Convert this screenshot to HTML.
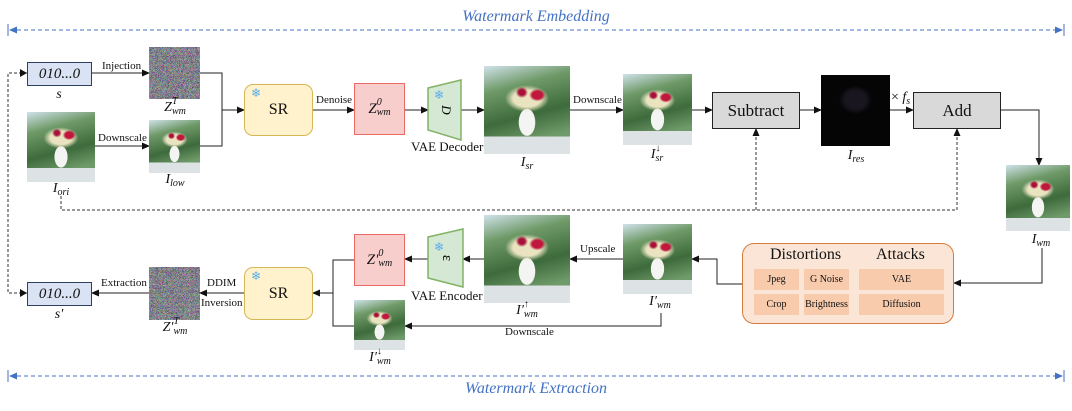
<!DOCTYPE html>
<html><head><meta charset="utf-8"><style>
body{margin:0;width:1072px;height:411px;background:#fff;position:relative;overflow:hidden;font-family:"Liberation Serif",serif;color:#111}
.a{position:absolute}
.photo{position:absolute;background:
radial-gradient(ellipse 12% 9% at 62% 33%,#c0183c 0 50%,transparent 80%),
radial-gradient(ellipse 9% 8% at 44% 30%,#a8103a 0 40%,transparent 80%),
radial-gradient(ellipse 32% 19% at 50% 37%,#e9e3c0 0 50%,transparent 80%),
radial-gradient(ellipse 15% 24% at 50% 64%,#f4f4f2 0 62%,transparent 66%),
linear-gradient(to bottom,transparent 0 80%,#dde2e4 80%),
linear-gradient(165deg,#d0e2ea 0%,#6f9a68 25%,#3e6b3c 55%,#6f9a6a 79%);}
.box{position:absolute;box-sizing:border-box;display:flex;align-items:center;justify-content:center}
.lab{position:absolute;font-style:italic;font-size:14px;transform:translateX(-50%);white-space:nowrap}
.t{position:absolute;font-size:11px;white-space:nowrap}
.cell{position:absolute;background:#f8cbad;font-size:10px;display:flex;align-items:center;justify-content:center}
.up{display:inline-block;width:0;font-size:10px;position:relative;top:-7px;overflow:visible}
.sb{font-size:10px;position:relative;top:3px}
</style></head><body>
<svg class="a" style="left:0;top:0" width="1072" height="411">
<defs>
<marker id="ar" markerWidth="8" markerHeight="8" refX="7" refY="4" orient="auto" markerUnits="userSpaceOnUse"><path d="M0,0.5 L8,4 L0,7.5z" fill="#111"/></marker>
<marker id="ab" markerWidth="8" markerHeight="8" refX="7" refY="4" orient="auto" markerUnits="userSpaceOnUse"><path d="M0,0.5 L8,4 L0,7.5z" fill="#4472c4"/></marker>
<marker id="abs" markerWidth="8" markerHeight="8" refX="1" refY="4" orient="auto" markerUnits="userSpaceOnUse"><path d="M8,0.5 L0,4 L8,7.5z" fill="#4472c4"/></marker>
<filter id="nz" x="0" y="0" width="100%" height="100%"><feTurbulence type="turbulence" baseFrequency="1.2" numOctaves="1" seed="3"/><feColorMatrix type="matrix" values="1.2 0 0 0 0.05 0 1.2 0 0 0.05 0 0 1.2 0 0.08 0 0 0 0 1"/></filter>
</defs>
<g stroke="#4472c4" stroke-width="1" stroke-dasharray="4,3" fill="none">
<line x1="10" y1="30" x2="1062" y2="30" marker-start="url(#abs)" marker-end="url(#ab)"/>
<line x1="10" y1="376" x2="1062" y2="376" marker-start="url(#abs)" marker-end="url(#ab)"/>
</g>
<line x1="8" y1="24" x2="8" y2="36" stroke="#4472c4"/><line x1="1064" y1="24" x2="1064" y2="36" stroke="#4472c4"/>
<line x1="8" y1="370" x2="8" y2="382" stroke="#4472c4"/><line x1="1064" y1="370" x2="1064" y2="382" stroke="#4472c4"/>
<rect x="149" y="47" width="51" height="52" fill="#8a7f86"/>
<rect x="149" y="47" width="51" height="52" filter="url(#nz)"/>
<rect x="149" y="267" width="51" height="53" fill="#8a7f86"/>
<rect x="149" y="267" width="51" height="53" filter="url(#nz)"/>
<g stroke="#222" stroke-width="1" fill="none">
<line x1="92" y1="73" x2="149" y2="73" marker-end="url(#ar)"/>
<line x1="95" y1="146" x2="149" y2="146" marker-end="url(#ar)"/>
<polyline points="200,73 222,73 222,146 200,146"/>
<line x1="222" y1="110" x2="244" y2="110" marker-end="url(#ar)"/>
<line x1="313" y1="110" x2="354" y2="110" marker-end="url(#ar)"/>
<line x1="405" y1="110" x2="428" y2="110" marker-end="url(#ar)"/>
<line x1="461" y1="110" x2="484" y2="110" marker-end="url(#ar)"/>
<line x1="570" y1="110" x2="623" y2="110" marker-end="url(#ar)"/>
<line x1="692" y1="110" x2="712" y2="110" marker-end="url(#ar)"/>
<line x1="800" y1="110" x2="821" y2="110" marker-end="url(#ar)"/>
<line x1="890" y1="110" x2="913" y2="110" marker-end="url(#ar)"/>
<polyline points="1001,110 1039,110 1039,165" marker-end="url(#ar)"/>
<polyline points="1042,248 1042,283 954,283" marker-end="url(#ar)"/>
<polyline points="742,284 717,284 717,259 692,259" marker-end="url(#ar)"/>
<line x1="623" y1="259" x2="570" y2="259" marker-end="url(#ar)"/>
<line x1="484" y1="259" x2="463" y2="259" marker-end="url(#ar)"/>
<line x1="428" y1="259" x2="405" y2="259" marker-end="url(#ar)"/>
<polyline points="661,313 661,326 405,326" marker-end="url(#ar)"/>
<polyline points="354,260 333,260 333,326 354,326"/>
<line x1="333" y1="293" x2="313" y2="293" marker-end="url(#ar)"/>
<line x1="244" y1="293" x2="200" y2="293" marker-end="url(#ar)"/>
<line x1="149" y1="293" x2="92" y2="293" marker-end="url(#ar)"/>
</g>
<g stroke="#333" stroke-width="1" stroke-dasharray="3,2" fill="none">
<polyline points="61,196 61,210 957,210 957,129" marker-end="url(#ar)"/>
<line x1="756" y1="210" x2="756" y2="129" marker-end="url(#ar)"/>
<polyline points="27,73 8,73 8,293 27,293"/>
</g>
<path d="M20,69 L27,73 L20,77z" fill="#111"/><path d="M20,289 L27,293 L20,297z" fill="#111"/>
<polygon points="428,88 461,80 461,140 428,130" fill="#d5e8d4" stroke="#82b366" stroke-width="1.5"/>
<polygon points="428,237 463,229 463,287 428,278" fill="#d5e8d4" stroke="#82b366" stroke-width="1.5"/>
<text x="446" y="114" font-size="13" font-style="italic" text-anchor="middle" transform="rotate(90 446 110)" font-family="Liberation Serif">D</text>
<text x="447" y="262" font-size="15" text-anchor="middle" transform="rotate(90 447 258)" font-family="Liberation Serif">ε</text>
</svg>
<div class="a" style="left:0;width:1072px;top:8px;text-align:center;color:#4472c4;font-style:italic;font-size:16px">Watermark Embedding</div>
<div class="a" style="left:0;width:1072px;top:380px;text-align:center;color:#4472c4;font-style:italic;font-size:16px">Watermark Extraction</div>

<div class="box" style="left:27px;top:62px;width:65px;height:24px;background:#dae3f3;border:1.5px solid #2f3f5f;font-style:italic;font-size:15px">010...0</div>
<div class="lab" style="left:59px;top:87px">s</div>
<div class="box" style="left:27px;top:282px;width:65px;height:24px;background:#dae3f3;border:1.5px solid #2f3f5f;font-style:italic;font-size:15px">010...0</div>
<div class="lab" style="left:59px;top:307px">s′</div>

<div class="t" style="left:102px;top:60px">Injection</div>
<div class="t" style="left:98px;top:132px">Downscale</div>
<div class="photo" style="left:27px;top:112px;width:68px;height:70px"></div>
<div class="lab" style="left:61px;top:181px">I<span class="sb">ori</span></div>
<div class="lab" style="left:175px;top:100px">Z<span class="up">T</span><span class="sb">wm</span></div>
<div class="photo" style="left:149px;top:120px;width:51px;height:53px"></div>
<div class="lab" style="left:175px;top:172px">I<span class="sb">low</span></div>

<div class="box" style="left:244px;top:84px;width:69px;height:52px;background:#fff2cc;border:1.5px solid #d6b656;border-radius:9px;font-size:16px">SR</div>
<div class="a" style="left:251px;top:86px;color:#5aaee8;font-size:12px">❄</div>
<div class="t" style="left:316px;top:94px">Denoise</div>
<div class="box" style="left:354px;top:83px;width:51px;height:52px;background:#f8cecc;border:1.5px solid #ea6b66;font-style:italic;font-size:15px">Z<span class="up">0</span><span class="sb">wm</span></div>
<div class="a" style="left:434px;top:88px;color:#5aaee8;font-size:12px">❄</div>
<div class="t" style="left:411px;top:139px;font-size:13px">VAE Decoder</div>
<div class="photo" style="left:484px;top:66px;width:86px;height:88px"></div>
<div class="lab" style="left:527px;top:155px">I<span class="sb">sr</span></div>
<div class="t" style="left:573px;top:94px">Downscale</div>
<div class="photo" style="left:623px;top:74px;width:69px;height:71px"></div>
<div class="lab" style="left:657px;top:147px">I<span class="up">↓</span><span class="sb">sr</span></div>
<div class="box" style="left:712px;top:92px;width:88px;height:37px;background:#d9d9d9;border:1.5px solid #222;font-size:17px">Subtract</div>
<div class="a" style="left:821px;top:75px;width:69px;height:71px;background:radial-gradient(ellipse 30% 25% at 50% 35%,#1a1620 0 50%,#050505 80%),#000"></div>
<div class="lab" style="left:856px;top:148px">I<span class="sb">res</span></div>
<div class="a" style="left:891px;top:90px;font-size:14px">× <i>f<span class="sb">s</span></i></div>
<div class="box" style="left:913px;top:92px;width:88px;height:37px;background:#d9d9d9;border:1.5px solid #222;font-size:17px">Add</div>
<div class="photo" style="left:1006px;top:165px;width:64px;height:66px"></div>
<div class="lab" style="left:1041px;top:232px">I<span class="sb">wm</span></div>

<div class="box" style="left:742px;top:243px;width:212px;height:81px;background:#fbe5d6;border:1.5px solid #d77b3c;border-radius:12px"></div>
<div class="a" style="left:770px;top:246px;font-size:16px">Distortions</div>
<div class="a" style="left:876px;top:246px;font-size:16px">Attacks</div>
<div class="cell" style="left:754px;top:269px;width:45px;height:21px">Jpeg</div>
<div class="cell" style="left:804px;top:269px;width:45px;height:21px">G Noise</div>
<div class="cell" style="left:754px;top:294px;width:45px;height:21px">Crop</div>
<div class="cell" style="left:804px;top:294px;width:45px;height:21px">Brightness</div>
<div class="cell" style="left:859px;top:269px;width:85px;height:21px">VAE</div>
<div class="cell" style="left:859px;top:294px;width:85px;height:21px">Diffusion</div>

<div class="photo" style="left:623px;top:224px;width:69px;height:70px"></div>
<div class="lab" style="left:660px;top:294px">I′<span class="sb">wm</span></div>
<div class="t" style="left:580px;top:243px">Upscale</div>
<div class="photo" style="left:484px;top:215px;width:86px;height:88px"></div>
<div class="lab" style="left:527px;top:303px">I′<span class="up">↑</span><span class="sb">wm</span></div>
<div class="a" style="left:434px;top:240px;color:#5aaee8;font-size:12px">❄</div>
<div class="t" style="left:411px;top:288px;font-size:13px">VAE Encoder</div>
<div class="box" style="left:354px;top:234px;width:51px;height:52px;background:#f8cecc;border:1.5px solid #ea6b66;font-style:italic;font-size:15px">Z′<span class="up">0</span><span class="sb">wm</span></div>
<div class="photo" style="left:354px;top:300px;width:51px;height:50px"></div>
<div class="lab" style="left:380px;top:350px">I′<span class="up">↓</span><span class="sb">wm</span></div>
<div class="t" style="left:505px;top:326px">Downscale</div>
<div class="box" style="left:244px;top:267px;width:69px;height:53px;background:#fff2cc;border:1.5px solid #d6b656;border-radius:9px;font-size:16px">SR</div>
<div class="a" style="left:251px;top:269px;color:#5aaee8;font-size:12px">❄</div>
<div class="t" style="left:207px;top:277px">DDIM</div>
<div class="t" style="left:201px;top:297px">Inversion</div>
<div class="t" style="left:101px;top:277px">Extraction</div>
<div class="lab" style="left:175px;top:320px">Z′<span class="up">T</span><span class="sb">wm</span></div>
</body></html>
